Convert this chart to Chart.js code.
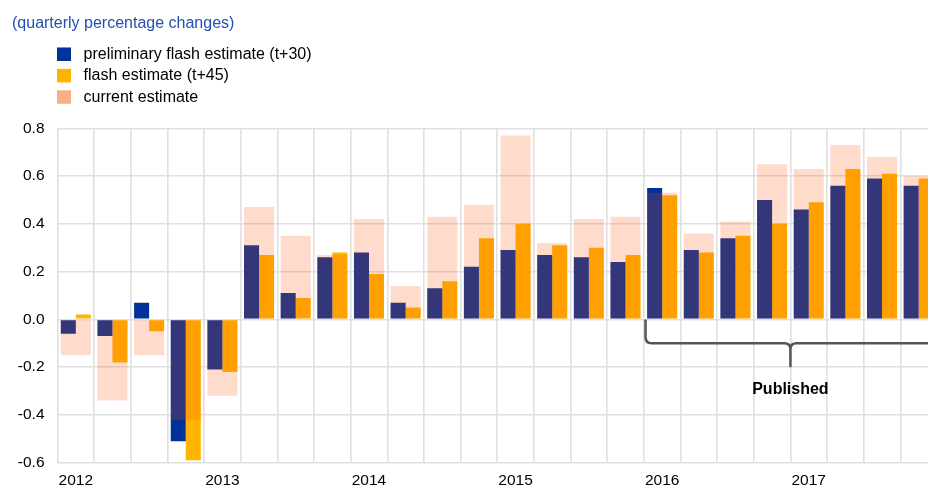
<!DOCTYPE html>
<html>
<head>
<meta charset="utf-8">
<script src="https://cdn.jsdelivr.net/npm/chart.js@4.4.1/dist/chart.umd.min.js"></script>
<style>
  html, body { margin: 0; padding: 0; background: #fff; overflow: hidden; }
  #wrap { position: relative; width: 937px; height: 489px; }
</style>
</head>
<body>
<div id="wrap"><canvas id="c"></canvas></div>
<script>
// ---- data ----
const quarters = ['2012Q1','2012Q2','2012Q3','2012Q4','2013Q1','2013Q2','2013Q3','2013Q4',
                  '2014Q1','2014Q2','2014Q3','2014Q4','2015Q1','2015Q2','2015Q3','2015Q4',
                  '2016Q1','2016Q2','2016Q3','2016Q4','2017Q1','2017Q2','2017Q3','2017Q4'];
const preliminaryFlash = [-0.06,-0.07,0.07,-0.51,-0.21,0.31,0.11,0.26,0.28,0.07,0.13,0.22,
                          0.29,0.27,0.26,0.24,0.55,0.29,0.34,0.50,0.46,0.56,0.59,0.56];
const flashEstimate   = [0.02,-0.18,-0.05,-0.59,-0.22,0.27,0.09,0.28,0.19,0.05,0.16,0.34,
                          0.40,0.31,0.30,0.27,0.52,0.28,0.35,0.40,0.49,0.63,0.61,0.59];
const currentEstimate = [-0.15,-0.34,-0.15,-0.42,-0.32,0.47,0.35,0.27,0.42,0.14,0.43,0.48,
                          0.77,0.32,0.42,0.43,0.53,0.36,0.41,0.65,0.63,0.73,0.68,0.60];
const yTicks = [-0.6,-0.4,-0.2,0.0,0.2,0.4,0.6,0.8];
const seriesLabels = ['preliminary flash estimate (t+30)','flash estimate (t+45)','current estimate'];
const chartTitle = '(quarterly percentage changes)';
const publishedLabel = 'Published';
const publishedStart = '2016Q1';
const publishedMid = '2017Q1';

const FONT = "'Liberation Sans', Arial, Helvetica, sans-serif";
const BLUE = '#003299', YELLOW = '#FFB400', PEACH_LEGEND = '#F7B183', OVERLAY = 'rgba(255,75,0,0.2)';

const headerPlugin = {
  id: 'header',
  afterDraw(chart) {
    const ctx = chart.ctx;
    ctx.save();
    ctx.font = '16px ' + FONT;
    ctx.fillStyle = '#244fb0';
    ctx.textBaseline = 'alphabetic';
    ctx.textAlign = 'left';
    ctx.fillText(chartTitle, 12, 27.5);
    const colors = [BLUE, YELLOW, PEACH_LEGEND];
    seriesLabels.forEach((lab, i) => {
      const base = 59 + i * 21.4;
      ctx.fillStyle = colors[i];
      ctx.fillRect(57, base - 11.5, 14, 13.5);
      ctx.fillStyle = '#000';
      ctx.fillText(lab, 83.5, base);
    });
    ctx.restore();
  }
};

const bracePlugin = {
  id: 'brace',
  afterDatasetsDraw(chart) {
    const xs = chart.scales.x, ys = chart.scales.y, ctx = chart.ctx;
    const cw = xs.getPixelForValue(1) - xs.getPixelForValue(0);
    const x0 = xs.getPixelForValue(quarters.indexOf(publishedStart)) - cw / 2 + 1.7;
    const mid = xs.getPixelForValue(quarters.indexOf(publishedMid)) - cw / 2;
    const right = chart.width + 10;
    const y0 = ys.getPixelForValue(0);
    const yh = ys.getPixelForValue(-0.1);
    const ytip = ys.getPixelForValue(-0.2);
    const r = 6;
    ctx.save();
    ctx.strokeStyle = '#555555';
    ctx.lineWidth = 2.5;
    ctx.lineJoin = 'round';
    ctx.beginPath();
    ctx.moveTo(x0, y0);
    ctx.lineTo(x0, yh - r);
    ctx.quadraticCurveTo(x0, yh, x0 + r, yh);
    ctx.lineTo(mid - r, yh);
    ctx.quadraticCurveTo(mid, yh, mid, yh + r);
    ctx.lineTo(mid, ytip);
    ctx.moveTo(mid, yh + r);
    ctx.quadraticCurveTo(mid, yh, mid + r, yh);
    ctx.lineTo(right, yh);
    ctx.stroke();
    ctx.font = 'bold 16px ' + FONT;
    ctx.fillStyle = '#000';
    ctx.textAlign = 'center';
    ctx.textBaseline = 'alphabetic';
    ctx.fillText(publishedLabel, mid, ytip + 27);
    ctx.restore();
  }
};

new Chart(document.getElementById('c'), {
  type: 'bar',
  data: {
    labels: quarters,
    datasets: [
      { label: seriesLabels[2], data: currentEstimate, backgroundColor: OVERLAY,
        grouped: false, order: 0, categoryPercentage: 0.82, barPercentage: 1.0, borderWidth: 0 },
      { label: seriesLabels[0], data: preliminaryFlash, backgroundColor: BLUE,
        order: 1, categoryPercentage: 0.82, barPercentage: 1.0, borderWidth: 0 },
      { label: seriesLabels[1], data: flashEstimate, backgroundColor: YELLOW,
        order: 1, categoryPercentage: 0.82, barPercentage: 1.0, borderWidth: 0 }
    ]
  },
  options: {
    responsive: true,
    maintainAspectRatio: false,
    animation: false,
    layout: { padding: { top: 128.3, left: 0, right: 0, bottom: 0 } },
    plugins: { legend: { display: false }, title: { display: false }, tooltip: { enabled: false } },
    scales: {
      x: {
        type: 'category',
        offset: true,
        grid: { offset: true, color: '#e0e0e0', lineWidth: 1.6, drawTicks: false },
        border: { display: false },
        ticks: {
          autoSkip: false, maxRotation: 0, minRotation: 0, padding: 9,
          color: '#000', font: { family: FONT, size: 15.5 },
          callback: (v, i) => quarters[i].endsWith('Q1') ? quarters[i].slice(0, 4) : ''
        },
        afterFit: (s) => { s.height = 26.3; }
      },
      y: {
        min: -0.6, max: 0.8,
        grid: { color: '#e0e0e0', lineWidth: 1.6, drawTicks: false },
        border: { display: false },
        afterBuildTicks: (s) => { s.ticks = yTicks.map(v => ({ value: v })); },
        ticks: {
          padding: 13, color: '#000', font: { family: FONT, size: 15.5 },
          callback: (v) => Number(v).toFixed(1)
        },
        afterFit: (s) => { s.width = 57.5; }
      }
    }
  },
  plugins: [headerPlugin, bracePlugin]
});
</script>
</body>
</html>
